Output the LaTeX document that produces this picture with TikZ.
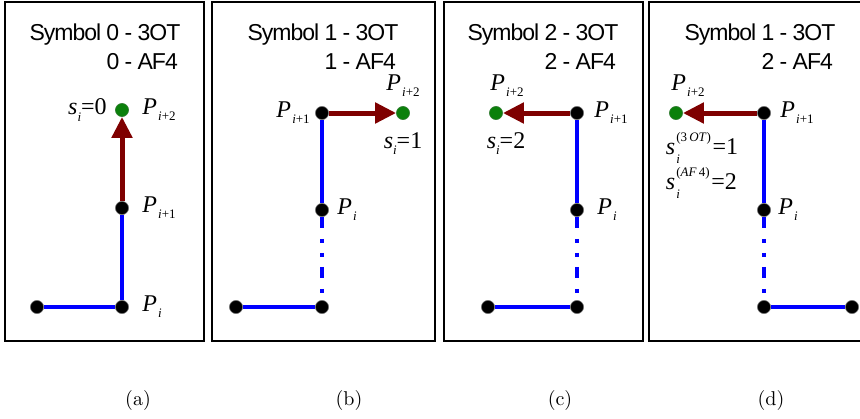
\documentclass[tikz,border=0pt]{standalone}
\usepackage{fontspec}
\usetikzlibrary{arrows.meta,positioning}
\newfontfamily\symsans{Liberation Sans}[LetterSpace=-4.5]
\newfontfamily\symserif{Liberation Serif}
\definecolor{SymBlue}{HTML}{0000FF}
\definecolor{SymRed}{HTML}{7F0000}
\definecolor{SymGreen}{HTML}{0B800B}
\newcommand{\smallsub}[1]{{\symserif\fontsize{6.5}{7}\selectfont #1}}
\newcommand{\Pn}[1]{{\symserif\itshape P}\kern0.6pt\raisebox{-0.6ex}{\smallsub{#1}}}
\newcommand{\sv}[1]{{\symserif\itshape s}\raisebox{-0.6ex}{\smallsub{\textit{i}}}{\symserif =#1}}
\newcommand{\svx}[2]{{\symserif\itshape s}\kern0.6pt\rlap{\raisebox{-0.8ex}{\smallsub{\textit{i}}}}\raisebox{1.3ex}{\smallsub{(#1)}}\kern0.8pt{\symserif =#2}}

\begin{document}
\begin{tikzpicture}[x=0.5pt,y=-0.5pt,
      panel/.style={draw=black,line width=1pt},
      title/.style={anchor=north,align=left,inner sep=0pt,
        font=\symsans\fontsize{11.5}{14.5}\selectfont},
      dot/.style={circle,fill=black,draw=black!55,line width=0.3pt,
        inner sep=0pt,minimum size=6.6pt},
      gdot/.style={dot,fill=SymGreen,draw=SymGreen!60!gray},
      seg/.style={draw=SymBlue,line width=2pt},
      gapseg/.style={seg,dash pattern=on 5.5pt off 5.5pt on 2pt off 5pt on 2pt off 5pt},
      move/.style={-{Triangle[length=10.5pt,width=10pt]},draw=SymRed,line width=2.5pt},
      lbl/.style={inner sep=0pt,font=\fontsize{12}{17.5}\selectfont},
      subcap/.style={inner sep=0pt,font=\normalsize}
    ]
    \clip (0,0) rectangle (860,418);

    \draw[panel] (5,2) rectangle (204,341);
    \node[title] (ta) at (105,23) {Symbol 0 - 3OT\\\phantom{Symbol }0 - AF4};
    \node[dot] (a0) at (37,307) {};
    \node[dot] (a1) at (122,307) {};
    \node[dot] (a2) at (122,208) {};
    \node[gdot] (a3) at (122,110) {};
    \draw[seg] (a0) -- (a1);
    \draw[seg] (a1) -- (a2);
    \draw[move] (a2) -- (a3);
    \node[lbl,right=6.5pt of a1] (la1) {\Pn{\textit{i}}};
    \node[lbl,right=6.5pt of a2] (la2) {\Pn{\textit{i}+1}};
    \node[lbl,right=6.5pt of a3] (la3) {\Pn{\textit{i}+2}};
    \node[lbl,left=4pt of a3] (sa) {\sv{0}};
    \node[subcap] (capa) at (138,400) {(a)};

    \draw[panel] (212,2) rectangle (435,341);
    \node[title] (tb) at (323,23) {Symbol 1 - 3OT\\\phantom{Symbol }1 - AF4};
    \node[dot] (b0) at (236,307) {};
    \node[dot] (b1) at (322,307) {};
    \node[dot] (b2) at (322,210) {};
    \node[dot] (b3) at (322,113) {};
    \node[gdot] (b4) at (403,113) {};
    \draw[seg] (b0) -- (b1);
    \draw[gapseg] (b2) -- (b1);
    \draw[seg] (b2) -- (b3);
    \draw[move] (b3) -- (b4);
    \node[lbl,right=4pt of b2] (lb2) {\Pn{\textit{i}}};
    \node[lbl,left=2.5pt of b3] (lb3) {\Pn{\textit{i}+1}};
    \node[lbl,above=4.5pt of b4] (lb4) {\Pn{\textit{i}+2}};
    \node[lbl,below=6pt of b4] (sb) {\sv{1}};
    \node[subcap] (capb) at (349,400) {(b)};

    \draw[panel] (444,2) rectangle (643,341);
    \node[title] (tc) at (543,23) {Symbol 2 - 3OT\\\phantom{Symbol }2 - AF4};
    \node[dot] (c0) at (488,307) {};
    \node[dot] (c1) at (577,307) {};
    \node[dot] (c2) at (577,210) {};
    \node[dot] (c3) at (577,113) {};
    \node[gdot] (c4) at (496,113) {};
    \draw[seg] (c0) -- (c1);
    \draw[gapseg] (c2) -- (c1);
    \draw[seg] (c2) -- (c3);
    \draw[move] (c3) -- (c4);
    \node[lbl,right=6.5pt of c2] (lc2) {\Pn{\textit{i}}};
    \node[lbl,right=5pt of c3] (lc3) {\Pn{\textit{i}+1}};
    \node[lbl,above=4.5pt of c4,xshift=5.5pt] (lc4) {\Pn{\textit{i}+2}};
    \node[lbl,below=6pt of c4,xshift=5pt] (sc) {\sv{2}};
    \node[subcap] (capc) at (560,400) {(c)};

    \draw[panel] (649,2) rectangle (880,341);
    \node[title] (td) at (760,23) {Symbol 1 - 3OT\\\phantom{Symbol }2 - AF4};
    \node[dot] (d0) at (852,307) {};
    \node[dot] (d1) at (764,307) {};
    \node[dot] (d2) at (764,210) {};
    \node[dot] (d3) at (764,113) {};
    \node[gdot] (d4) at (676,113) {};
    \draw[seg] (d0) -- (d1);
    \draw[gapseg] (d2) -- (d1);
    \draw[seg] (d2) -- (d3);
    \draw[move] (d3) -- (d4);
    \node[lbl,right=3.5pt of d2] (ld2) {\Pn{\textit{i}}};
    \node[lbl,right=4.5pt of d3] (ld3) {\Pn{\textit{i}+1}};
    \node[lbl,above=4.5pt of d4,xshift=6pt] (ld4) {\Pn{\textit{i}+2}};
    \node[lbl,below=6pt of d4,xshift=13pt,align=left] (sd)
      {\svx{3\,\textit{OT}}{1}\\\svx{\textit{AF}\,4}{2}};
    \node[subcap] (capd) at (771,400) {(d)};
  \end{tikzpicture}
\end{document}
